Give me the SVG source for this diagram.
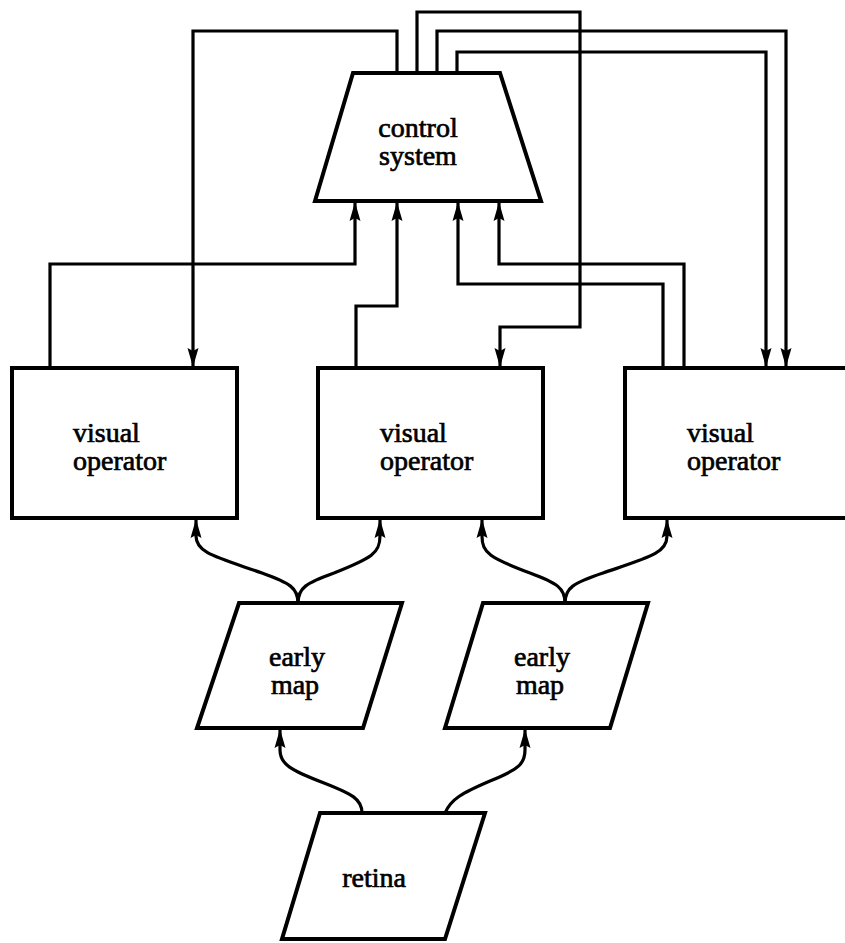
<svg xmlns="http://www.w3.org/2000/svg" width="845" height="943" viewBox="0 0 845 943">
<style>
.shape{fill:#fff;stroke:#000;stroke-width:4;stroke-linejoin:miter}
.con{fill:none;stroke:#000;stroke-width:3.2;stroke-linejoin:miter}
.lbl{font-family:"Liberation Serif","Times New Roman",serif;font-size:28px;fill:#000;stroke:#000;stroke-width:0.7}
.c{text-anchor:middle}
</style>
<defs>
<marker id="arr" viewBox="0 -6 19 12" markerWidth="19" markerHeight="12" refX="19" refY="0" orient="auto" markerUnits="userSpaceOnUse">
<path d="M0,-5.5 L19,0 L0,5.5 L3,0 z" fill="#000"/>
</marker>
</defs>
<rect width="845" height="943" fill="#fff"/>

<g id="control-system">
<polygon class="shape" points="353,73 500,73 541,201 315,201"/>
<text class="lbl c" x="418" y="137">control</text>
<text class="lbl c" x="418" y="165">system</text>
</g>

<g id="visual-operator-1">
<rect class="shape" x="12" y="368" width="225" height="150"/>
<text class="lbl" x="73" y="442">visual</text>
<text class="lbl" x="73" y="470">operator</text>
</g>

<g id="visual-operator-2">
<rect class="shape" x="318" y="368" width="225" height="150"/>
<text class="lbl" x="380" y="442">visual</text>
<text class="lbl" x="380" y="470">operator</text>
</g>

<g id="visual-operator-3">
<rect class="shape" x="625" y="368" width="240" height="150"/>
<text class="lbl" x="687" y="442">visual</text>
<text class="lbl" x="687" y="470">operator</text>
</g>

<g id="early-map-1">
<polygon class="shape" points="239,603 402,603 363,728 197,728"/>
<text class="lbl c" x="297" y="666">early</text>
<text class="lbl c" x="295" y="694">map</text>
</g>

<g id="early-map-2">
<polygon class="shape" points="483,603 648,603 610,728 445,728"/>
<text class="lbl c" x="542" y="666">early</text>
<text class="lbl c" x="540" y="694">map</text>
</g>

<g id="retina">
<polygon class="shape" points="320,813 485,813 445,939 282,939"/>
<text class="lbl c" x="374" y="887">retina</text>
</g>

<g id="connectors">
<path class="con" d="M397,73 V31 H193 V367" marker-end="url(#arr)"/>
<path class="con" d="M417,73 V12 H580 V327 H500 V367" marker-end="url(#arr)"/>
<path class="con" d="M437,73 V31 H786 V367" marker-end="url(#arr)"/>
<path class="con" d="M457,73 V52 H766 V367" marker-end="url(#arr)"/>
<path class="con" d="M50,368 V264 H355 V202" marker-end="url(#arr)"/>
<path class="con" d="M356,368 V306 H397 V202" marker-end="url(#arr)"/>
<path class="con" d="M663,368 V284 H458 V202" marker-end="url(#arr)"/>
<path class="con" d="M684,368 V264 H499 V202" marker-end="url(#arr)"/>
<path class="con" d="M298,603 C298,588 290,583 262,573 C216,557 196,553 196,536 V519" marker-end="url(#arr)"/>
<path class="con" d="M298,603 C298,588 306,583 334,573 C372,558 380,553 380,536 V519" marker-end="url(#arr)"/>
<path class="con" d="M565,603 C565,588 557,583 530,573 C490,558 482,553 482,536 V519" marker-end="url(#arr)"/>
<path class="con" d="M565,603 C565,588 573,583 603,573 C650,557 667,553 667,536 V519" marker-end="url(#arr)"/>
<path class="con" d="M362,813 C362,799 352,794 324,783 C290,770 280,764 280,750 V729" marker-end="url(#arr)"/>
<path class="con" d="M445,813 C451,799 462,793 490,781 C520,769 525,763 525,750 V729" marker-end="url(#arr)"/>
</g>
</svg>
